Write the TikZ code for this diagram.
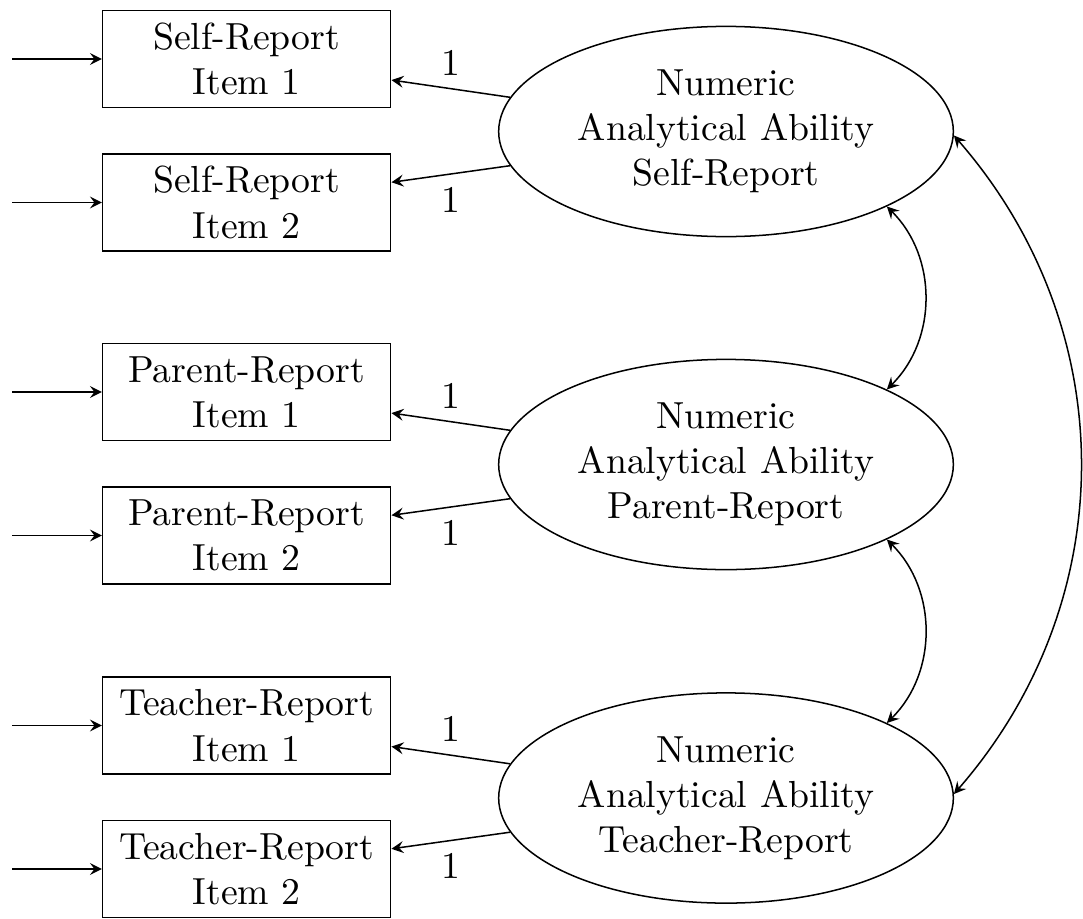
\documentclass[tikz,border=0pt]{standalone}
\usetikzlibrary{arrows,shapes.geometric}
\begin{document}
\begin{tikzpicture}[x=0.2653pt,y=-0.2653pt,>=stealth,
  obs/.style={draw, rectangle, minimum width=76.4pt, minimum height=25.7pt, align=center, inner sep=0pt},
  lat/.style={draw, ellipse, align=center},
  conn/.style={->},
  cov/.style={<->}]
\useasboundingbox (0,0) rectangle (1083,918);
% observed items
\node[obs] (s1) at (246.7,59) {Self-Report\\Item 1};
\node[obs] (s2) at (246.7,202.5) {Self-Report\\Item 2};
\node[obs] (p1) at (246.7,392) {Parent-Report\\Item 1};
\node[obs] (p2) at (246.7,535.5) {Parent-Report\\Item 2};
\node[obs] (t1) at (246.7,725.5) {Teacher-Report\\Item 1};
\node[obs] (t2) at (246.7,869) {Teacher-Report\\Item 2};
% latent variables
\node[lat] (S) at (726,131.5) {Numeric\\Analytical Ability\\Self-Report};
\node[lat] (P) at (726,464.5) {Numeric\\Analytical Ability\\Parent-Report};
\node[lat] (T) at (726,798) {Numeric\\Analytical Ability\\Teacher-Report};
% error inputs
\coordinate (es1) at (12,59);
\coordinate (es2) at (12,202.5);
\coordinate (ep1) at (12,392);
\coordinate (ep2) at (12,535.5);
\coordinate (et1) at (12,725.5);
\coordinate (et2) at (12,869);
\draw[conn] (es1) -- (s1);
\draw[conn] (es2) -- (s2);
\draw[conn] (ep1) -- (p1);
\draw[conn] (ep2) -- (p2);
\draw[conn] (et1) -- (t1);
\draw[conn] (et2) -- (t2);
% loadings
\draw[conn] (S.171) -- node[above]{1} (s1);
\draw[conn] (S.189) -- node[below]{1} (s2);
\draw[conn] (P.171) -- node[above]{1} (p1);
\draw[conn] (P.189) -- node[below]{1} (p2);
\draw[conn] (T.171) -- node[above]{1} (t1);
\draw[conn] (T.189) -- node[below]{1} (t2);
% covariances
\draw[cov] (S.-25) to[out=-45,in=45] (P.25);
\draw[cov] (P.-25) to[out=-45,in=45] (T.25);
\draw[cov] (S.-1.5) to[out=-49,in=49] (T.1.5);
\end{tikzpicture}
\end{document}
